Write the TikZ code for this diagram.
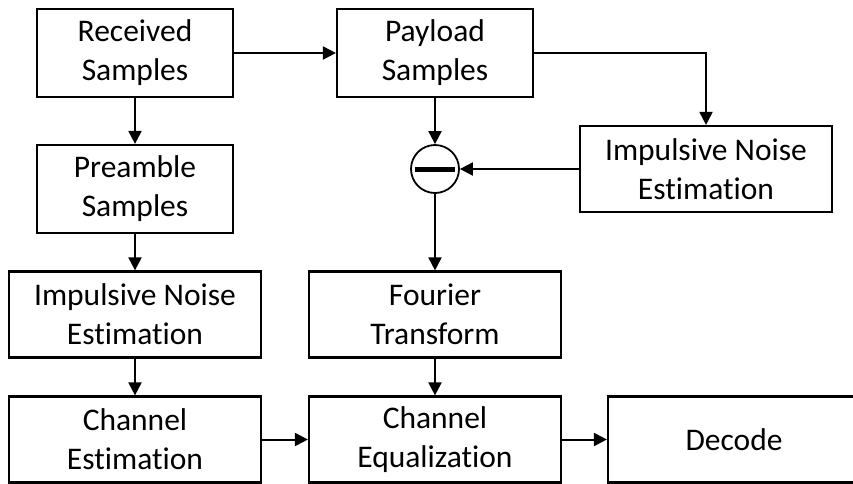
\documentclass[tikz,border=0pt]{standalone}
\usepackage{fontspec}
\setmainfont{Carlito}[Ligatures={NoCommon}]
\usepackage{tikz}
\usetikzlibrary{arrows.meta}

\begin{document}
\begin{tikzpicture}[x=1pt,y=-1pt,
    block/.style={draw,line width=2.2pt,align=center,inner sep=0pt,
        minimum width=252pt,minimum height=86pt,
        font=\fontsize{31.5}{39}\selectfont},
    smallblock/.style={block,minimum width=196pt,minimum height=88pt},
    link/.style={line width=2pt,-{Triangle[length=13pt,width=13pt]}}]
\useasboundingbox (0,0) rectangle (853,483);
%\tikzstyle{place}=[circle,draw,thick]
    \node[smallblock] (rec) at (135,53) {Received\\Samples};
    \node[smallblock] (pay) at (435,53) {Payload\\Samples};
    \node[smallblock] (pre) at (135,189) {Preamble\\Samples};
    \node[block] (ine2) at (706,169) {Impulsive Noise\\Estimation};
    \node[circle,draw,line width=1.8pt,minimum size=48pt,inner sep=0pt] (sub) at (435,169) {};
    \node[block] (ine1) at (135,314.5) {Impulsive Noise\\Estimation};
    \node[block] (fou) at (435,314.5) {Fourier\\Transform};
    \node[block] (chest) at (135,439.5) {Channel\\Estimation};
    \node[block] (cheq) at (435,439.5) {Channel\\Equalization};
    \node[block] (dec) at (734,439.5) {Decode};

    \draw[line width=5pt] ([xshift=-20pt]sub.center) -- ([xshift=20pt]sub.center);

    \path [link] (rec) edge (pay);
    \path [link] (rec) edge (pre);
    \draw [link] (pay) -| (ine2);
    \path [link] (pay) edge (sub);
    \path [link] (ine2) edge (sub);
    \path [link] (sub) edge (fou);
    \path [link] (pre) edge (ine1);
    \path [link] (ine1) edge (chest);
    \path [link] (fou) edge (cheq);
    \path [link] (chest) edge (cheq);
    \path [link] (cheq) edge (dec);
\end{tikzpicture}
\end{document}
